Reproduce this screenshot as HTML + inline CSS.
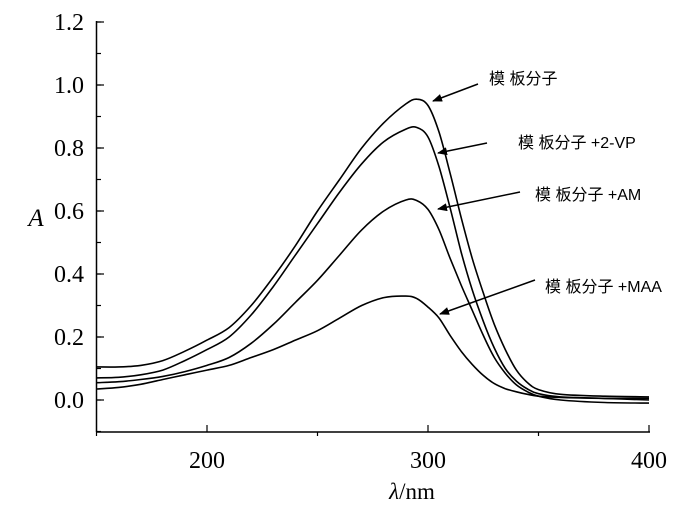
<!DOCTYPE html>
<html><head><meta charset="utf-8"><style>
body{margin:0;background:#fff}
svg text{font-family:"Liberation Serif",serif}
.cn{font-family:"Liberation Sans","Noto Sans CJK SC",sans-serif;font-size:16px}
</style></head><body>
<svg id="c" width="700" height="506" xmlns="http://www.w3.org/2000/svg"></svg>
<script>
const xTicks=[200,300,400];
const yTicks=[0.0,0.2,0.4,0.6,0.8,1.0,1.2];
const wl=[150,160,170,180,190,200,210,220,230,240,250,260,270,280,290,295,300,305,310,315,320,325,330,335,340,345,350,360,380,400];
const sTemplate=[0.105,0.105,0.11,0.125,0.155,0.19,0.23,0.3,0.39,0.49,0.6,0.7,0.8,0.88,0.94,0.955,0.935,0.85,0.72,0.58,0.45,0.34,0.24,0.16,0.095,0.055,0.033,0.018,0.012,0.01];
const sVP=[0.07,0.072,0.08,0.095,0.125,0.16,0.2,0.27,0.36,0.46,0.56,0.66,0.75,0.82,0.86,0.865,0.835,0.74,0.61,0.47,0.35,0.25,0.165,0.1,0.06,0.035,0.02,0.01,0.005,0.0];
const sAM=[0.055,0.058,0.065,0.075,0.09,0.11,0.135,0.18,0.24,0.31,0.38,0.46,0.54,0.6,0.635,0.633,0.605,0.54,0.45,0.365,0.285,0.205,0.135,0.085,0.048,0.026,0.012,0.0,-0.008,-0.01];
const sMAA=[0.035,0.04,0.05,0.065,0.08,0.095,0.11,0.135,0.16,0.19,0.22,0.26,0.3,0.325,0.33,0.322,0.295,0.26,0.205,0.155,0.113,0.078,0.052,0.036,0.026,0.018,0.012,0.008,0.005,0.005];
const series=[sTemplate,sVP,sAM,sMAA];
const names=['series-template','series-2vp','series-am','series-maa'];
const labels=['模 板分子','模 板分子 +2-VP','模 板分子 +AM','模 板分子 +MAA'];
const px=x=>96.5+(x-150)*2.21;
const py=a=>400-a*315;
const svg=document.getElementById('c');
const NS='http://www.w3.org/2000/svg';
function mk(t,at,p){const e=document.createElementNS(NS,t);for(const k in at)e.setAttribute(k,at[k]);(p||svg).appendChild(e);return e;}
let e=mk('line',{x1:96.5,y1:21,x2:96.5,y2:432,stroke:'#000','stroke-width':1.5});


e=mk('line',{x1:96.5,y1:432,x2:650,y2:432,stroke:'#000','stroke-width':1.5});


for(let v=-0.1;v<=1.21;v+=0.1){const y=py(v);mk('line',{x1:96.5,x2:101,y1:y,y2:y,stroke:'#000','stroke-width':1.2});}
yTicks.forEach(v=>{const y=py(v);mk('line',{x1:96.5,x2:104,y1:y,y2:y,stroke:'#000','stroke-width':1.2});
 const t=mk('text',{x:84,y:y+8,'text-anchor':'end','font-size':24});t.textContent=v.toFixed(1);
 
 });
[150,250,350].forEach(v=>mk('line',{x1:px(v),x2:px(v),y1:432,y2:436,stroke:'#000','stroke-width':1.2}));
xTicks.forEach(v=>{mk('line',{x1:px(v),x2:px(v),y1:425,y2:432,stroke:'#000','stroke-width':1.2});
 const t=mk('text',{x:px(v),y:468,'text-anchor':'middle','font-size':24});t.textContent=v;
 
 });
e=mk('text',{x:36,y:226,'text-anchor':'middle','font-size':25,'font-style':'italic'});e.textContent='A';


e=mk('text',{x:412,y:499,'text-anchor':'middle','font-size':23});e.innerHTML='<tspan font-style="italic">λ</tspan>/nm';


function smooth(pts){let d='M'+pts[0][0].toFixed(1)+','+pts[0][1].toFixed(1);
 for(let i=0;i<pts.length-1;i++){const p0=pts[Math.max(0,i-1)],p1=pts[i],p2=pts[i+1],p3=pts[Math.min(pts.length-1,i+2)];
  const c1x=p1[0]+(p2[0]-p0[0])/6,c1y=p1[1]+(p2[1]-p0[1])/6,c2x=p2[0]-(p3[0]-p1[0])/6,c2y=p2[1]-(p3[1]-p1[1])/6;
  d+='C'+c1x.toFixed(1)+','+c1y.toFixed(1)+' '+c2x.toFixed(1)+','+c2y.toFixed(1)+' '+p2[0].toFixed(1)+','+p2[1].toFixed(1);}
 return d;}
series.forEach((s,i)=>{const d=smooth(s.map((a,j)=>[px(wl[j]),py(a)]));
 const p=mk('path',{d:d,fill:'none',stroke:'#000','stroke-width':1.6,'stroke-linejoin':'round'});
 
 });
mk('defs',{}).innerHTML='<marker id="ah" markerWidth="10" markerHeight="8" refX="9" refY="4" orient="auto" markerUnits="userSpaceOnUse"><path d="M0,0L10,4L0,8z" fill="#000"/></marker>';
const arrows=[[478,84,433,101],[487,143,438,153],[520,192,438,209],[535,280,440,314]];
const lpos=[[489,84],[518,148],[535,200],[545,292]];
arrows.forEach((a,i)=>{const l=mk('line',{x1:a[0],y1:a[1],x2:a[2],y2:a[3],stroke:'#000','stroke-width':1.5,'marker-end':'url(#ah)'});
 
 
 const t=mk('text',{x:lpos[i][0],y:lpos[i][1],class:'cn'});t.textContent=labels[i];
 
 });
</script>
</body></html>
